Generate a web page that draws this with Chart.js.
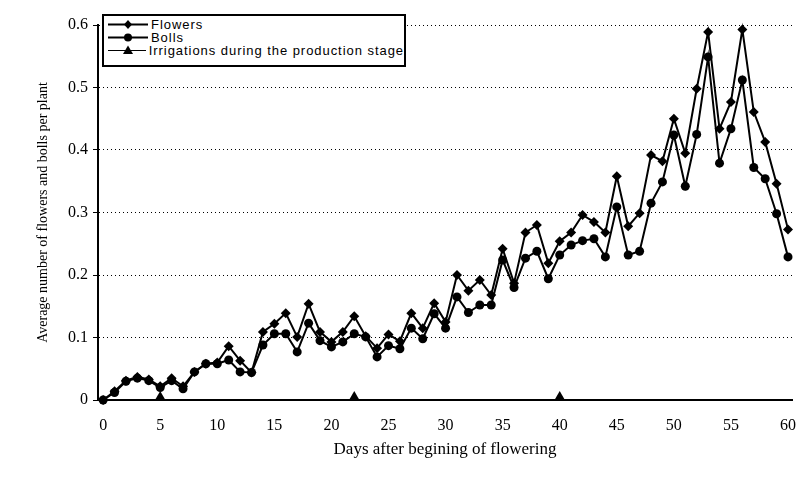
<!DOCTYPE html>
<html>
<head>
<meta charset="utf-8">
<script src="https://cdn.jsdelivr.net/npm/chart.js@4.4.1/dist/chart.umd.min.js"></script>
<style>
    html, body { margin: 0; padding: 0; background: #fff; }
    #wrap { position: relative; width: 798px; height: 489px; }
    #legend {
        position: absolute; left: 102px; top: 14px; width: 300px; height: 47px;
        border: 2px solid #000; background: #fff;
        font-family: "Liberation Sans", Arial, sans-serif; font-size: 13px; color: #000;
        letter-spacing: 0.95px;
        padding-top: 2px;
    }
    .row { height: 13px; line-height: 13px; display: flex; align-items: center; white-space: nowrap; }
    .row svg { margin-left: 4px; margin-right: 3px; }
</style>
</head>
<body>
<div id="wrap">
    <canvas id="chart" width="798" height="489"></canvas>
    <div id="legend">
        <div class="row">
            <svg width="40" height="13"><line x1="0" y1="6.5" x2="40" y2="6.5" stroke="#000" stroke-width="2"/><polygon points="20,2 24,6.5 20,11 16,6.5" fill="#000"/></svg>
            <span>Flowers</span>
        </div>
        <div class="row">
            <svg width="40" height="13"><line x1="0" y1="6.5" x2="40" y2="6.5" stroke="#000" stroke-width="2"/><circle cx="20" cy="6.5" r="4" fill="#000"/></svg>
            <span>Bolls</span>
        </div>
        <div class="row">
            <svg width="40" height="13"><line x1="0" y1="6.5" x2="40" y2="6.5" stroke="#000" stroke-width="1"/><polygon points="20,1.5 25,10 15,10" fill="#000"/></svg>
            <span>Irrigations during the production stage</span>
        </div>
    </div>
</div>
<script>
// -- Data --
const days = [0, 1, 2, 3, 4, 5, 6, 7, 8, 9, 10,
    11, 12, 13, 14, 15, 16, 17, 18, 19, 20,
    21, 22, 23, 24, 25, 26, 27, 28, 29, 30,
    31, 32, 33, 34, 35, 36, 37, 38, 39, 40,
    41, 42, 43, 44, 45, 46, 47, 48, 49, 50,
    51, 52, 53, 54, 55, 56, 57, 58, 59, 60];

const flowers = [0, 0.014, 0.031, 0.037, 0.033, 0.022, 0.035, 0.022, 0.045, 0.058, 0.06,
    0.086, 0.063, 0.044, 0.109, 0.122, 0.139, 0.101, 0.154, 0.109, 0.093,
    0.109, 0.134, 0.102, 0.083, 0.105, 0.094, 0.139, 0.115, 0.155, 0.125,
    0.2, 0.175, 0.192, 0.168, 0.242, 0.187, 0.268, 0.28, 0.219, 0.254,
    0.268, 0.296, 0.285, 0.268, 0.358, 0.278, 0.299, 0.392, 0.382, 0.45,
    0.395, 0.498, 0.589, 0.434, 0.477, 0.593, 0.461, 0.413, 0.346, 0.273];

const bolls = [0, 0.012, 0.03, 0.035, 0.031, 0.02, 0.031, 0.018, 0.045, 0.058, 0.058,
    0.064, 0.045, 0.044, 0.088, 0.106, 0.106, 0.077, 0.123, 0.095, 0.085,
    0.093, 0.106, 0.101, 0.069, 0.087, 0.082, 0.115, 0.098, 0.138, 0.115,
    0.165, 0.14, 0.152, 0.152, 0.224, 0.18, 0.227, 0.238, 0.194, 0.232,
    0.248, 0.255, 0.258, 0.229, 0.309, 0.232, 0.238, 0.315, 0.349, 0.424,
    0.342, 0.425, 0.549, 0.379, 0.434, 0.512, 0.372, 0.354, 0.298, 0.229];

// irrigation days, markers sit on the axis
const irrigationDays = [5, 22, 40];
const irrigationLevel = [0.005, 0.005, 0.005];

const xTicks = [0, 5, 10, 15, 20, 25, 30, 35, 40, 45, 50, 55, 60];
const yTicks = [0, 0.1, 0.2, 0.3, 0.4, 0.5, 0.6];
const yTickLabels = ['0', '0.1', '0.2', '0.3', '0.4', '0.5', '0.6'];

// -- Chart --
const serif = '"Liberation Serif", "Times New Roman", serif';

new Chart(document.getElementById('chart').getContext('2d'), {
    type: 'line',
    data: {
        datasets: [{
            label: 'Flowers',
            data: days.map((d, i) => ({ x: d, y: flowers[i] })),
            borderColor: '#000',
            backgroundColor: '#000',
            borderWidth: 2,
            pointStyle: 'rectRot',
            pointRadius: 5,
            pointBorderWidth: 0,
            tension: 0,
            clip: false
        }, {
            label: 'Bolls',
            data: days.map((d, i) => ({ x: d, y: bolls[i] })),
            borderColor: '#000',
            backgroundColor: '#000',
            borderWidth: 2,
            pointStyle: 'circle',
            pointRadius: 4.5,
            pointBorderWidth: 0,
            tension: 0,
            clip: false
        }, {
            label: 'Irrigations during the production stage',
            data: irrigationDays.map((d, i) => ({ x: d, y: irrigationLevel[i] })),
            borderColor: '#000',
            backgroundColor: '#000',
            showLine: false,
            pointStyle: 'triangle',
            pointRadius: 6,
            pointBorderWidth: 0,
            clip: false
        }]
    },
    options: {
        responsive: false,
        animation: false,
        layout: { padding: { top: 25, right: 6, left: 0, bottom: 0 } },
        plugins: {
            legend: { display: false },
            tooltip: { enabled: false }
        },
        scales: {
            x: {
                type: 'linear',
                min: -0.45,
                max: 60.35,
                afterBuildTicks: s => { s.ticks = xTicks.map(v => ({ value: v })); },
                afterFit: s => { s.height = 89; s.paddingLeft = 0; s.paddingRight = 0; },
                grid: { display: false, drawTicks: false },
                border: { color: '#000', width: 2 },
                ticks: { color: '#000', font: { family: serif, size: 16 }, padding: 16, maxRotation: 0 },
                title: {
                    display: true,
                    text: 'Days after begining of flowering',
                    color: '#000',
                    font: { family: serif, size: 17 },
                    padding: { bottom: 29 }
                }
            },
            y: {
                min: 0,
                max: 0.6,
                afterBuildTicks: s => { s.ticks = yTicks.map(v => ({ value: v })); },
                afterFit: s => { s.width = 98; },
                grid: { color: '#000', lineWidth: 1, tickLength: 5, tickColor: '#000', tickBorderDash: [] },
                border: { color: '#000', width: 2, dash: [1, 3] },
                ticks: {
                    color: '#000',
                    font: { family: serif, size: 16 },
                    padding: 5,
                    callback: (v, i) => yTickLabels[i]
                },
                title: {
                    display: true,
                    text: 'Average number of flowers and bolls per plant',
                    color: '#000',
                    font: { family: serif, size: 14 },
                    padding: { top: 35 }
                }
            }
        }
    }
});
</script>
</body>
</html>
